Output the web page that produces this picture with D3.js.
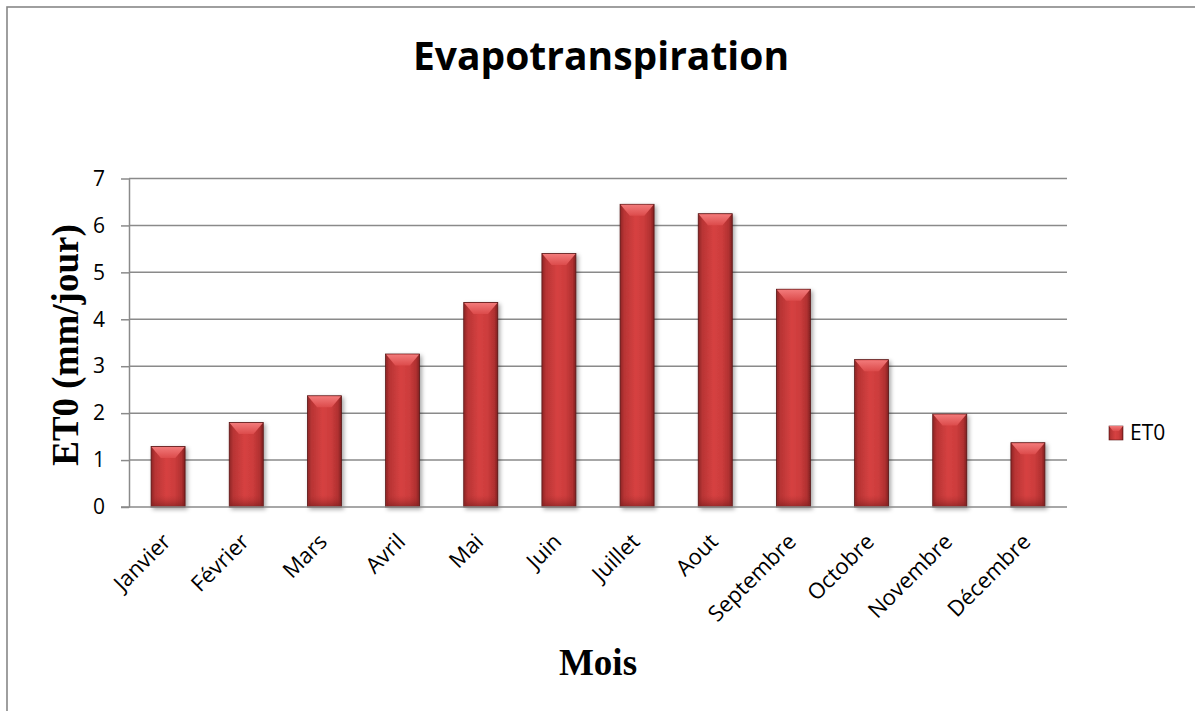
<!DOCTYPE html>
<html>
<head>
<meta charset="utf-8">
<script src="https://cdn.jsdelivr.net/npm/d3@7"></script>
<style>
  html, body { margin: 0; padding: 0; background: #fff; }
  svg { display: block; }
</style>
</head>
<body>
<svg id="chart" width="1195" height="711"></svg>
<script>
// Monthly reference evapotranspiration ET0 (mm/day)
const months = ["Janvier", "Février", "Mars", "Avril", "Mai", "Juin",
                "Juillet", "Aout", "Septembre", "Octobre", "Novembre", "Décembre"];
const et0 = [1.29, 1.80, 2.37, 3.26, 4.36, 5.40, 6.45, 6.25, 4.64, 3.14, 1.98, 1.37];
const yTicks = [0, 1, 2, 3, 4, 5, 6, 7];
const seriesName = "ET0";

const svg = d3.select("#chart");
const W = 1195, H = 711;
const plot = { left: 129, right: 1067, top: 178.5, bottom: 507 };

// chart frame (only its top and left edges fall inside the page)
svg.append("rect")
  .attr("x", 7).attr("y", 7).attr("width", W + 20).attr("height", H + 20)
  .attr("fill", "#fff").attr("stroke", "#878787").attr("stroke-width", 1.6);

const defs = svg.append("defs");
const body = defs.append("linearGradient").attr("id", "barBody")
  .attr("x1", "0").attr("x2", "1").attr("y1", "0").attr("y2", "0");
[[0, "#8e2525"], [0.12, "#b83434"], [0.45, "#d64141"], [0.7, "#cc3c3c"], [0.9, "#b03030"], [1, "#7e2020"]]
  .forEach(([o, c]) => body.append("stop").attr("offset", o).attr("stop-color", c));
const topG = defs.append("linearGradient").attr("id", "barTop")
  .attr("x1", "0").attr("x2", "0").attr("y1", "0").attr("y2", "1");
[[0, "#f27a7a"], [1, "#dc4b4b"]]
  .forEach(([o, c]) => topG.append("stop").attr("offset", o).attr("stop-color", c));
const bottomG = defs.append("linearGradient").attr("id", "barBottom")
  .attr("x1", "0").attr("x2", "0").attr("y1", "0").attr("y2", "1");
[[0, "#a82c2c", 0], [1, "#6e1a1a", 0.6]]
  .forEach(([o, c, a]) => bottomG.append("stop").attr("offset", o).attr("stop-color", c).attr("stop-opacity", a));
const shadow = defs.append("filter").attr("id", "shadow")
  .attr("x", "-30%").attr("y", "-10%").attr("width", "160%").attr("height", "130%");
shadow.append("feDropShadow").attr("dx", 2).attr("dy", 2).attr("stdDeviation", 2.2)
  .attr("flood-color", "#000").attr("flood-opacity", 0.35);

const x = d3.scaleBand().domain(months).range([plot.left, plot.right])
  .paddingInner(0.565).paddingOuter(0.2825);
const y = d3.scaleLinear().domain([0, 7]).range([plot.bottom, plot.top]);

// horizontal gridlines
svg.append("g").selectAll("line").data(yTicks.slice(1)).join("line")
  .attr("x1", plot.left).attr("x2", plot.right)
  .attr("y1", d => y(d)).attr("y2", d => y(d))
  .attr("stroke", "#8a8a8a").attr("stroke-width", 1.5);

// y axis
const yAxis = svg.append("g").attr("transform", `translate(${plot.left},0)`)
  .call(d3.axisLeft(y).tickValues(yTicks).tickFormat(d3.format("d"))
    .tickSize(8).tickPadding(16).tickSizeOuter(0));
yAxis.select(".domain").attr("stroke", "#8a8a8a").attr("stroke-width", 1.5);
yAxis.selectAll(".tick line").attr("stroke", "#8a8a8a").attr("stroke-width", 1.5);
yAxis.selectAll(".tick text")
  .attr("font-family", "'Open Sans', sans-serif").attr("font-size", 21).attr("fill", "#000");

// bars
const bars = svg.append("g").selectAll("g").data(months).join("g");
bars.append("rect")
  .attr("x", d => x(d)).attr("width", x.bandwidth())
  .attr("y", (d, i) => y(et0[i])).attr("height", (d, i) => y(0) - y(et0[i]))
  .attr("fill", "url(#barBody)").attr("stroke", "#5a1414").attr("stroke-width", 0.8)
  .attr("filter", "url(#shadow)");
bars.append("rect")
  .attr("x", d => x(d) + 1).attr("width", x.bandwidth() - 2)
  .attr("y", (d, i) => Math.max(y(et0[i]), y(0) - 12)).attr("height", (d, i) => Math.min(12, y(0) - y(et0[i])))
  .attr("fill", "url(#barBottom)");
bars.append("path")
  .attr("d", (d, i) => {
    const x0 = x(d) + 0.5, x1 = x(d) + x.bandwidth() - 0.5, t = y(et0[i]) + 0.5;
    const w = x1 - x0;
    return `M${x0},${t}L${x1},${t}L${x0 + w * 0.72},${t + 11}L${x0 + w * 0.28},${t + 11}Z`;
  })
  .attr("fill", "url(#barTop)");

// x axis line
const xAxis = svg.append("g").attr("transform", `translate(0,${plot.bottom})`)
  .call(d3.axisBottom(x).tickSize(0).tickFormat(""));
xAxis.select(".domain").attr("stroke", "#8a8a8a").attr("stroke-width", 1.5)
  .attr("d", `M${plot.left - 8},0H${plot.right}`);

// rotated month labels
svg.append("g").selectAll("text").data(months).join("text")
  .attr("transform", d => `translate(${x(d) + x.bandwidth() / 2 + 4},${plot.bottom + 36}) rotate(-45)`)
  .attr("text-anchor", "end")
  .attr("font-family", "'Open Sans', sans-serif").attr("font-size", 22).attr("fill", "#000")
  .text(d => d);

// titles
svg.append("text").attr("x", 601).attr("y", 70).attr("text-anchor", "middle")
  .attr("font-family", "'Open Sans', sans-serif").attr("font-weight", 700).attr("font-size", 39)
  .attr("fill", "#000").text("Evapotranspiration");
svg.append("text").attr("x", 598).attr("y", 675).attr("text-anchor", "middle")
  .attr("font-family", "'Liberation Serif', 'Times New Roman', serif").attr("font-weight", 700).attr("font-size", 37)
  .attr("fill", "#000").text("Mois");
svg.append("text").attr("transform", "translate(78,345) rotate(-90)").attr("text-anchor", "middle")
  .attr("font-family", "'Liberation Serif', 'Times New Roman', serif").attr("font-weight", 700).attr("font-size", 37)
  .attr("fill", "#000").text("ET0 (mm/jour)");

// legend
const leg = svg.append("g").attr("transform", "translate(1109,426)");
leg.append("rect").attr("width", 14).attr("height", 14)
  .attr("fill", "url(#barBody)").attr("stroke", "#5a1414").attr("stroke-width", 0.6);
leg.append("path").attr("d", "M0,0L14,0L10,5L4,5Z").attr("fill", "url(#barTop)");
leg.append("text").attr("x", 21).attr("y", 14)
  .attr("font-family", "'Open Sans', sans-serif").attr("font-size", 21).attr("fill", "#000")
  .text(seriesName);
</script>
</body>
</html>
